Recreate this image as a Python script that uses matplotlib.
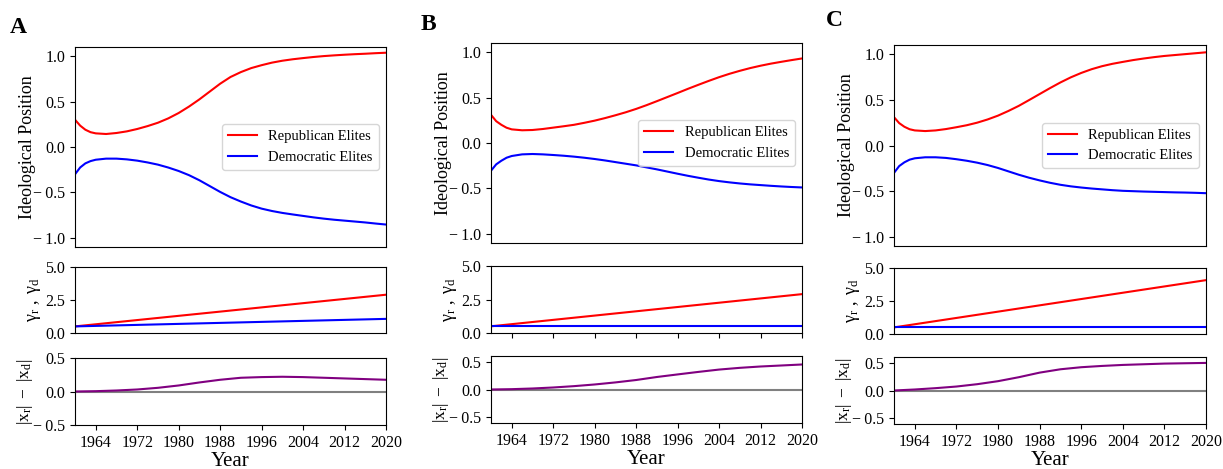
import matplotlib.pyplot as plt
import matplotlib.ticker as mticker

plt.rcParams['font.family'] = ['Liberation Serif', 'DejaVu Serif']
plt.rcParams['mathtext.fontset'] = 'custom'
plt.rcParams['mathtext.rm'] = 'Liberation Serif'
plt.rcParams['mathtext.it'] = 'Liberation Serif:italic'
plt.rcParams['axes.unicode_minus'] = True

# simulated elite positions
years = [1960, 1961, 1962, 1963, 1964, 1966, 1968, 1970, 1972, 1974, 1976, 1978,
         1980, 1982, 1984, 1986, 1988, 1990, 1992, 1994, 1996, 1998, 2000, 2002,
         2004, 2006, 2008, 2010, 2012, 2014, 2016, 2018, 2020]

rep_A = [0.30, 0.235, 0.19, 0.163, 0.15, 0.143, 0.154, 0.172, 0.198, 0.23, 0.267, 0.315,
         0.374, 0.445, 0.524, 0.61, 0.696, 0.77, 0.824, 0.868, 0.90, 0.928, 0.949, 0.965,
         0.978, 0.99, 1.00, 1.008, 1.015, 1.021, 1.026, 1.032, 1.037]
dem_A = [-0.30, -0.225, -0.18, -0.155, -0.14, -0.128, -0.128, -0.136, -0.15, -0.17, -0.194, -0.226,
         -0.264, -0.31, -0.366, -0.43, -0.494, -0.552, -0.60, -0.643, -0.678, -0.704, -0.725, -0.742,
         -0.758, -0.774, -0.788, -0.80, -0.81, -0.82, -0.83, -0.842, -0.853]

rep_B = [0.31, 0.24, 0.20, 0.168, 0.15, 0.14, 0.143, 0.154, 0.169, 0.184, 0.20, 0.222,
         0.246, 0.274, 0.305, 0.338, 0.375, 0.416, 0.46, 0.505, 0.55, 0.596, 0.64, 0.683,
         0.724, 0.761, 0.794, 0.824, 0.85, 0.873, 0.893, 0.912, 0.93]
dem_B = [-0.305, -0.235, -0.195, -0.162, -0.143, -0.125, -0.121, -0.125, -0.132, -0.14, -0.15, -0.162,
         -0.176, -0.192, -0.21, -0.228, -0.246, -0.268, -0.29, -0.314, -0.338, -0.361, -0.382, -0.402,
         -0.419, -0.433, -0.445, -0.455, -0.463, -0.471, -0.478, -0.484, -0.489]

rep_C = [0.31, 0.245, 0.205, 0.178, 0.165, 0.158, 0.165, 0.18, 0.20, 0.222, 0.25, 0.285,
         0.327, 0.378, 0.434, 0.498, 0.563, 0.628, 0.69, 0.746, 0.794, 0.835, 0.868, 0.894,
         0.915, 0.935, 0.952, 0.967, 0.98, 0.99, 1.00, 1.01, 1.02]
dem_C = [-0.30, -0.225, -0.184, -0.155, -0.14, -0.129, -0.129, -0.136, -0.15, -0.167, -0.188, -0.214,
         -0.246, -0.283, -0.32, -0.353, -0.382, -0.408, -0.43, -0.447, -0.46, -0.471, -0.48, -0.489,
         -0.496, -0.50, -0.504, -0.507, -0.51, -0.513, -0.515, -0.518, -0.522]

# polarization asymmetry |x_r| - |x_d|
gap_years = [1960, 1964, 1968, 1972, 1976, 1980, 1984, 1988, 1992, 1996,
             2000, 2004, 2008, 2012, 2016, 2020]
gap_A = [0.0, 0.005, 0.015, 0.03, 0.055, 0.09, 0.135, 0.175, 0.205, 0.215,
         0.22, 0.215, 0.205, 0.195, 0.185, 0.175]
gap_B = [0.0, 0.006, 0.018, 0.036, 0.06, 0.09, 0.127, 0.17, 0.224, 0.27,
         0.315, 0.357, 0.388, 0.412, 0.43, 0.448]
gap_C = [0.0, 0.018, 0.042, 0.071, 0.113, 0.167, 0.238, 0.32, 0.38, 0.417,
         0.44, 0.458, 0.47, 0.482, 0.488, 0.494]

# gamma (linear in time)
gamma_years = [1960, 2020]
gamma_r_A = [0.5, 2.9]
gamma_d_A = [0.5, 1.07]
gamma_r_B = [0.5, 2.9]
gamma_d_B = [0.5, 0.5]
gamma_r_C = [0.5, 4.08]
gamma_d_C = [0.5, 0.5]

panels = [
    dict(label='A', rep=rep_A, dem=dem_A, gr=gamma_r_A, gd=gamma_d_A, gap=gap_A,
         x0=75, x1=386, top=(47, 247), mid=(267, 333), bot=(358, 425),
         gap_lim=0.5, letter=(10, 33), mid_ticks=False),
    dict(label='B', rep=rep_B, dem=dem_B, gr=gamma_r_B, gd=gamma_d_B, gap=gap_B,
         x0=491, x1=802, top=(43, 243), mid=(266, 333), bot=(356, 423),
         gap_lim=0.6, letter=(421, 30), mid_ticks=True),
    dict(label='C', rep=rep_C, dem=dem_C, gr=gamma_r_C, gd=gamma_d_C, gap=gap_C,
         x0=894, x1=1206, top=(45, 246), mid=(268, 334), bot=(357, 424),
         gap_lim=0.6, letter=(826, 26), mid_ticks=False),
]

W, H = 1223, 469
fig = plt.figure(figsize=(W / 100, H / 100), dpi=100)


def box(x0, x1, yy):
    return [x0 / W, 1 - yy[1] / H, (x1 - x0) / W, (yy[1] - yy[0]) / H]


def fmt(v, pos):
    if v < 0:
        return '\u2212\u2009%.1f' % abs(v)
    return '%.1f' % abs(v)


years_ticks = list(range(1964, 2021, 8))

for p in panels:
    ax1 = fig.add_axes(box(p['x0'], p['x1'], p['top']))
    ax2 = fig.add_axes(box(p['x0'], p['x1'], p['mid']))
    ax3 = fig.add_axes(box(p['x0'], p['x1'], p['bot']))

    ax1.plot(years, p['rep'], color='red', lw=1.5, label='Republican Elites')
    ax1.plot(years, p['dem'], color='blue', lw=1.5, label='Democratic Elites')
    ax1.set_ylim(-1.1, 1.1)
    ax1.set_yticks([-1.0, -0.5, 0.0, 0.5, 1.0])
    ax1.set_ylabel('Ideological Position', fontsize=13, labelpad=-2)
    ax1.legend(loc='center right', fontsize=10.5)
    ax1.tick_params(axis='x', bottom=False, labelbottom=False)

    ax2.plot(gamma_years, p['gr'], color='red', lw=1.5)
    ax2.plot(gamma_years, p['gd'], color='blue', lw=1.5)
    ax2.set_ylim(0, 5)
    ax2.set_yticks([0.0, 2.5, 5.0])
    ax2.set_ylabel(r'$\mathrm{\gamma_r\ ,\ \gamma_d}$', fontsize=13, labelpad=2)
    ax2.tick_params(axis='x', bottom=p['mid_ticks'], labelbottom=False)

    ax3.axhline(0, color='grey', lw=1.5)
    ax3.plot(gap_years, p['gap'], color='purple', lw=1.5)
    ax3.set_ylim(-p['gap_lim'], p['gap_lim'])
    ax3.set_yticks([-0.5, 0.0, 0.5])
    ax3.set_ylabel(r'$\mathrm{|x_r|\ -\ |x_d|}$', fontsize=12.5, labelpad=-1)
    ax3.set_xlabel('Year', fontsize=15, labelpad=1)

    for ax in (ax1, ax2, ax3):
        ax.set_xlim(1960, 2020)
        ax.set_xticks(years_ticks)
        ax.yaxis.set_major_formatter(mticker.FuncFormatter(fmt))
        ax.tick_params(labelsize=11.5)

    fig.text(p['letter'][0] / W, 1 - p['letter'][1] / H, p['label'],
             fontsize=17, fontweight='bold', ha='left', va='baseline')

fig.savefig('out.png', dpi=100)
